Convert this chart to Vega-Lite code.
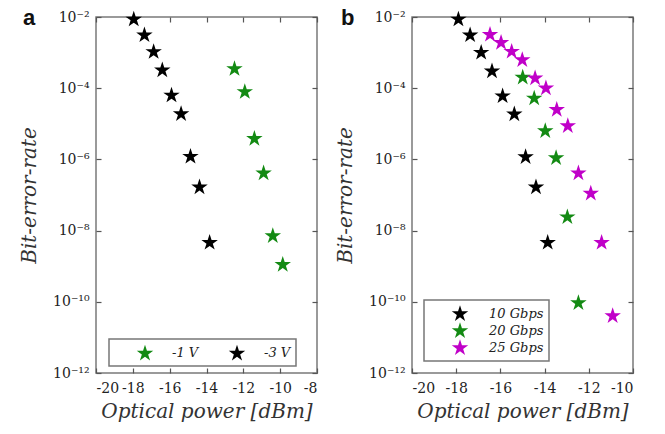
{
  "$schema": "https://vega.github.io/schema/vega-lite/v6.json",
  "padding": {"left": 18, "top": 6, "right": 5, "bottom": 5},
  "background": "white",
  "bounds": "flush",
  "spacing": 95,
  "datasets": {
    "a": [
      {"power": -17.95, "ber": 8.6e-3, "series": "-3 V"},
      {"power": -17.37, "ber": 3.1e-3, "series": "-3 V"},
      {"power": -16.87, "ber": 1.05e-3, "series": "-3 V"},
      {"power": -16.4, "ber": 3.2e-4, "series": "-3 V"},
      {"power": -15.9, "ber": 6.3e-5, "series": "-3 V"},
      {"power": -15.38, "ber": 1.9e-5, "series": "-3 V"},
      {"power": -14.87, "ber": 1.2e-6, "series": "-3 V"},
      {"power": -14.38, "ber": 1.66e-7, "series": "-3 V"},
      {"power": -13.83, "ber": 4.6e-9, "series": "-3 V"},
      {"power": -12.48, "ber": 3.5e-4, "series": "-1 V"},
      {"power": -11.92, "ber": 7.9e-5, "series": "-1 V"},
      {"power": -11.4, "ber": 3.8e-6, "series": "-1 V"},
      {"power": -10.9, "ber": 4.1e-7, "series": "-1 V"},
      {"power": -10.4, "ber": 7.1e-9, "series": "-1 V"},
      {"power": -9.86, "ber": 1.1e-9, "series": "-1 V"}
    ],
    "b": [
      {"power": -17.9, "ber": 8.6e-3, "series": "10 Gbps"},
      {"power": -17.37, "ber": 3.1e-3, "series": "10 Gbps"},
      {"power": -16.87, "ber": 1.0e-3, "series": "10 Gbps"},
      {"power": -16.38, "ber": 3.0e-4, "series": "10 Gbps"},
      {"power": -15.9, "ber": 6.0e-5, "series": "10 Gbps"},
      {"power": -15.37, "ber": 1.86e-5, "series": "10 Gbps"},
      {"power": -14.86, "ber": 1.17e-6, "series": "10 Gbps"},
      {"power": -14.39, "ber": 1.66e-7, "series": "10 Gbps"},
      {"power": -13.86, "ber": 4.6e-9, "series": "10 Gbps"},
      {"power": -14.99, "ber": 2.0e-4, "series": "20 Gbps"},
      {"power": -14.47, "ber": 5.2e-5, "series": "20 Gbps"},
      {"power": -13.97, "ber": 6.3e-6, "series": "20 Gbps"},
      {"power": -13.48, "ber": 1.1e-6, "series": "20 Gbps"},
      {"power": -12.97, "ber": 2.4e-8, "series": "20 Gbps"},
      {"power": -12.47, "ber": 9.3e-11, "series": "20 Gbps"},
      {"power": -16.47, "ber": 3.2e-3, "series": "25 Gbps"},
      {"power": -15.97, "ber": 1.9e-3, "series": "25 Gbps"},
      {"power": -15.49, "ber": 1.07e-3, "series": "25 Gbps"},
      {"power": -15.01, "ber": 6.2e-4, "series": "25 Gbps"},
      {"power": -14.43, "ber": 1.9e-4, "series": "25 Gbps"},
      {"power": -13.94, "ber": 1.0e-4, "series": "25 Gbps"},
      {"power": -13.45, "ber": 2.5e-5, "series": "25 Gbps"},
      {"power": -12.95, "ber": 8.7e-6, "series": "25 Gbps"},
      {"power": -12.47, "ber": 4.1e-7, "series": "25 Gbps"},
      {"power": -11.91, "ber": 1.1e-7, "series": "25 Gbps"},
      {"power": -11.42, "ber": 4.6e-9, "series": "25 Gbps"},
      {"power": -10.92, "ber": 4.0e-11, "series": "25 Gbps"}
    ]
  },
  "config": {
    "font": "DejaVu Serif",
    "view": {"stroke": "#7a7a7a", "strokeWidth": 1.5},
    "axis": {
      "labelFont": "DejaVu Serif",
      "labelFontSize": 14,
      "labelColor": "#222",
      "titleFont": "DejaVu Serif",
      "titleFontSize": 20,
      "titleFontStyle": "italic",
      "titleFontWeight": "normal",
      "titleColor": "#333",
      "grid": false,
      "domain": false,
      "tickColor": "#555",
      "tickWidth": 1.2
    },
    "legend": {
      "labelFont": "DejaVu Serif",
      "labelFontStyle": "italic",
      "labelFontSize": 13,
      "labelColor": "#222",
      "strokeColor": "#777",
      "strokeWidth": 1.5,
      "fillColor": "white",
      "symbolType": "M0,-1L0.2245,-0.309L0.951,-0.309L0.3633,0.118L0.588,0.809L0,0.382L-0.588,0.809L-0.3633,0.118L-0.951,-0.309L-0.2245,-0.309Z",
      "symbolSize": 300,
      "symbolStrokeWidth": 0
    },
    "title": {"font": "Liberation Sans", "fontSize": 22, "fontWeight": "bold", "color": "#111"}
  },
  "hconcat": [
    {
      "title": {"text": "a", "anchor": "start", "frame": "bounds", "dx": 4, "dy": 24},
      "width": 221,
      "height": 356,
      "data": {"name": "a"},
      "layer": [
        {
          "mark": {"type": "point", "filled": true, "opacity": 0},
          "encoding": {
            "x": {"field": "power", "type": "quantitative", "scale": {"domain": [-20, -8], "nice": false, "zero": false},
                  "axis": {"orient": "top", "title": null, "labels": false, "tickSize": -5, "minExtent": 0, "maxExtent": 0, "values": [-20, -18, -16, -14, -12, -10, -8]}},
            "y": {"field": "ber", "type": "quantitative", "scale": {"type": "log", "domain": [1e-12, 1e-2], "nice": false},
                  "axis": {"orient": "right", "title": null, "labels": false, "tickSize": -5, "minExtent": 0, "maxExtent": 0, "values": [1e-12, 1e-10, 1e-8, 1e-6, 1e-4, 1e-2]}}
          }
        },
        {
          "mark": {"type": "point", "filled": true, "opacity": 0},
          "encoding": {
            "x": {"field": "power", "type": "quantitative",
                  "axis": {"orient": "bottom", "title": null, "labels": false, "tickSize": -5, "minExtent": 0, "maxExtent": 0, "values": [-20, -18, -16, -14, -12, -10, -8]}},
            "y": {"field": "ber", "type": "quantitative",
                  "axis": {"orient": "left", "title": null, "labels": false, "tickSize": -5, "minExtent": 0, "maxExtent": 0, "values": [1e-12, 1e-10, 1e-8, 1e-6, 1e-4, 1e-2]}}
          }
        },
        {
          "mark": {"type": "point", "filled": true, "opacity": 1, "size": 300, "shape": "M0,-1L0.2245,-0.309L0.951,-0.309L0.3633,0.118L0.588,0.809L0,0.382L-0.588,0.809L-0.3633,0.118L-0.951,-0.309L-0.2245,-0.309Z"},
          "encoding": {
            "x": {"field": "power", "type": "quantitative",
                  "axis": {"orient": "bottom", "title": "Optical power [dBm]", "ticks": false, "tickSize": 0, "labelPadding": 8, "minExtent": 23, "maxExtent": 23, "titlePadding": 5,
                           "values": [-20, -18, -16, -14, -12, -10, -8], "labelExpr": "'' + datum.value"}},
            "y": {"field": "ber", "type": "quantitative",
                  "axis": {"orient": "left", "title": "Bit-error-rate", "ticks": false, "tickSize": 0, "labelPadding": 7, "minExtent": 52, "maxExtent": 52, "titlePadding": 5,
                           "values": [1e-12, 1e-10, 1e-8, 1e-6, 1e-4, 1e-2],
                           "labelExpr": "'10' + (datum.value < 5e-12 ? '⁻¹²' : datum.value < 5e-10 ? '⁻¹⁰' : datum.value < 5e-8 ? '⁻⁸' : datum.value < 5e-6 ? '⁻⁶' : datum.value < 5e-4 ? '⁻⁴' : '⁻²')"}},
            "color": {"field": "series", "type": "nominal",
                      "scale": {"domain": ["-1 V", "-3 V"], "range": ["#138a13", "#000000"]},
                      "legend": {"title": null, "orient": "none", "legendX": 13, "legendY": 322, "direction": "horizontal",
                                 "padding": 5, "symbolOffset": 22, "labelOffset": 18, "columnPadding": 7}}
          }
        }
      ],
      "resolve": {"axis": {"x": "independent", "y": "independent"}}
    },
    {
      "title": {"text": "b", "anchor": "start", "frame": "bounds", "dx": 6, "dy": 24},
      "width": 221,
      "height": 356,
      "data": {"name": "b"},
      "layer": [
        {
          "mark": {"type": "point", "filled": true, "opacity": 0},
          "encoding": {
            "x": {"field": "power", "type": "quantitative", "scale": {"domain": [-20, -10], "nice": false, "zero": false},
                  "axis": {"orient": "top", "title": null, "labels": false, "tickSize": -5, "minExtent": 0, "maxExtent": 0, "values": [-20, -18, -16, -14, -12, -10]}},
            "y": {"field": "ber", "type": "quantitative", "scale": {"type": "log", "domain": [1e-12, 1e-2], "nice": false},
                  "axis": {"orient": "right", "title": null, "labels": false, "tickSize": -5, "minExtent": 0, "maxExtent": 0, "values": [1e-12, 1e-10, 1e-8, 1e-6, 1e-4, 1e-2]}}
          }
        },
        {
          "mark": {"type": "point", "filled": true, "opacity": 0},
          "encoding": {
            "x": {"field": "power", "type": "quantitative",
                  "axis": {"orient": "bottom", "title": null, "labels": false, "tickSize": -5, "minExtent": 0, "maxExtent": 0, "values": [-20, -18, -16, -14, -12, -10]}},
            "y": {"field": "ber", "type": "quantitative",
                  "axis": {"orient": "left", "title": null, "labels": false, "tickSize": -5, "minExtent": 0, "maxExtent": 0, "values": [1e-12, 1e-10, 1e-8, 1e-6, 1e-4, 1e-2]}}
          }
        },
        {
          "mark": {"type": "point", "filled": true, "opacity": 1, "size": 300, "shape": "M0,-1L0.2245,-0.309L0.951,-0.309L0.3633,0.118L0.588,0.809L0,0.382L-0.588,0.809L-0.3633,0.118L-0.951,-0.309L-0.2245,-0.309Z"},
          "encoding": {
            "x": {"field": "power", "type": "quantitative",
                  "axis": {"orient": "bottom", "title": "Optical power [dBm]", "ticks": false, "tickSize": 0, "labelPadding": 8, "minExtent": 23, "maxExtent": 23, "titlePadding": 5,
                           "values": [-20, -18, -16, -14, -12, -10], "labelExpr": "'' + datum.value"}},
            "y": {"field": "ber", "type": "quantitative",
                  "axis": {"orient": "left", "title": "Bit-error-rate", "ticks": false, "tickSize": 0, "labelPadding": 7, "minExtent": 52, "maxExtent": 52, "titlePadding": 5,
                           "values": [1e-12, 1e-10, 1e-8, 1e-6, 1e-4, 1e-2],
                           "labelExpr": "'10' + (datum.value < 5e-12 ? '⁻¹²' : datum.value < 5e-10 ? '⁻¹⁰' : datum.value < 5e-8 ? '⁻⁸' : datum.value < 5e-6 ? '⁻⁶' : datum.value < 5e-4 ? '⁻⁴' : '⁻²')"}},
            "color": {"field": "series", "type": "nominal",
                      "scale": {"domain": ["10 Gbps", "20 Gbps", "25 Gbps"], "range": ["#000000", "#138a13", "#c000c8"]},
                      "legend": {"title": null, "orient": "none", "legendX": 12, "legendY": 283, "direction": "vertical",
                                 "padding": 5, "symbolOffset": 22, "labelOffset": 20, "rowPadding": 0,
                                 "labelExpr": "datum.label + '    '"}}
          }
        }
      ],
      "resolve": {"axis": {"x": "independent", "y": "independent"}}
    }
  ],
  "resolve": {"scale": {"color": "independent"}}
}
